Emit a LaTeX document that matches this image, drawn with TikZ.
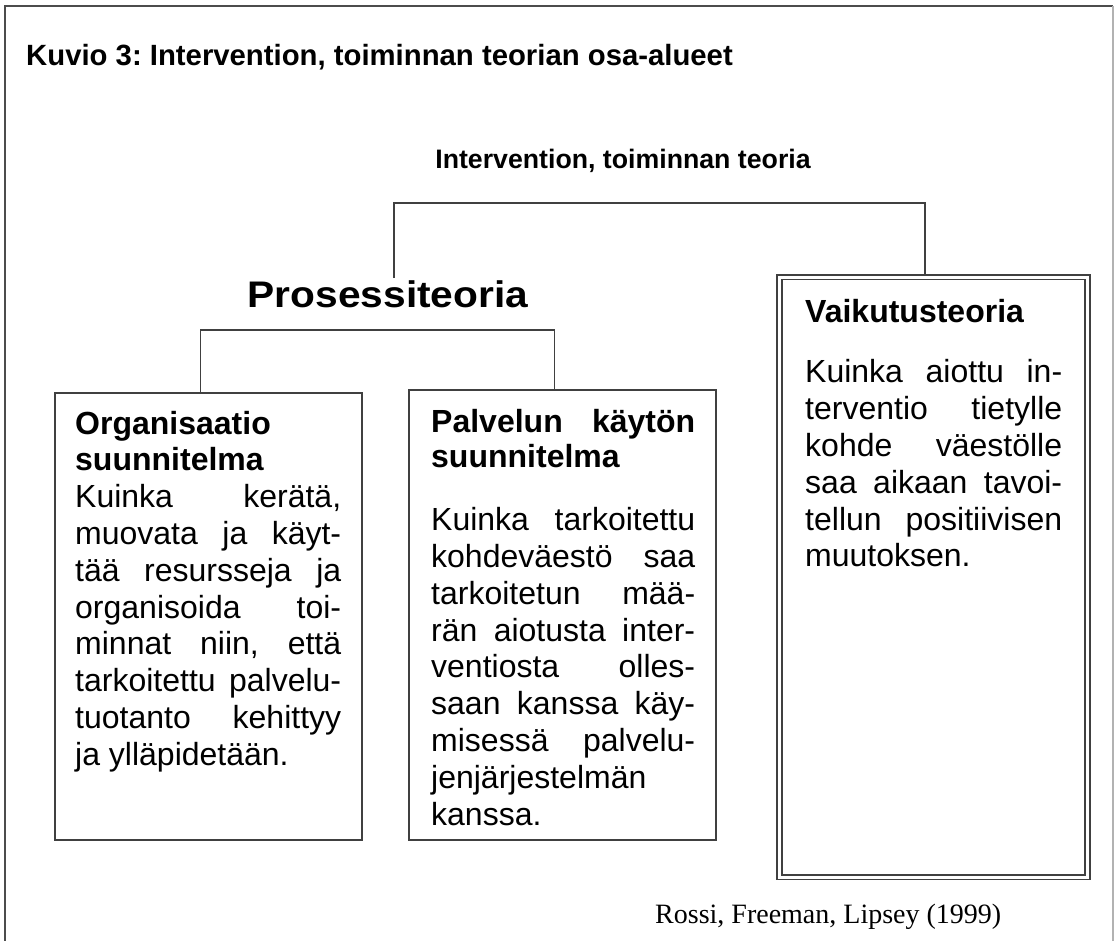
\documentclass[tikz,border=0pt]{standalone}
\usepackage{fontspec}
\usepackage{graphicx}
\setmainfont{Liberation Sans}
\newfontfamily\citefont{Liberation Serif}
% one justified line of a box text
\newcommand{\jline}[1]{\makebox[\linewidth][s]{#1}}

\begin{document}
\frenchspacing
\begin{tikzpicture}[x=1pt,y=-1pt,
  frame/.style={draw=black!70, line width=1.3pt},
  box/.style={draw=black!75, line width=1.8pt, rectangle, inner sep=0pt, outer sep=0pt},
  link/.style={draw=black!75, line width=1.8pt},
  boxtext/.style={anchor=base west, inner sep=0pt, font=\fontsize{32}{36.8}\selectfont},
  heading/.style={anchor=base, inner sep=0pt, font=\bfseries}
]
\useasboundingbox (0,0) rectangle (1118,940);
\fill[white] (0,0) rectangle (1118,940);

% outer frame, open at the bottom
\draw[frame] (5,950) -- (5,6) -- (1113,6);
\draw[draw=black!30, line width=1.3pt] (1113,6) -- (1113,950);

% caption
\node[anchor=base west, inner sep=0pt] (title) at (26,65)
  {\fontsize{29.3}{29.3}\selectfont\bfseries Kuvio 3: Intervention, toiminnan teorian osa-alueet};

% tree labels
\node[heading] (theory) at (623,168)
  {\fontsize{26.7}{26.7}\selectfont Intervention, toiminnan teoria};
\node[heading] (proc) at (388,307)
  {\fontsize{37}{37}\selectfont\scalebox{1.1}[1]{Prosessiteoria}};

% boxes
\node[box, minimum width=307pt, minimum height=447pt] (org) at (208.5,616.5) {};
\node[box, minimum width=307pt, minimum height=450pt] (serv) at (562.5,615) {};
\node[box, double, double distance=3pt, minimum width=308pt, minimum height=600pt] (impact) at (933.5,577) {};

% connector levels and attachment points
\coordinate (bar1) at (0,203);
\coordinate (bar2) at (0,330);
\coordinate (procUp) at (394,278);
\coordinate (orgIn) at ([xshift=-8pt]org.north);
\coordinate (servIn) at ([xshift=-8pt]serv.north);
\coordinate (impIn) at ([xshift=-8.5pt,yshift=3.1pt]impact.north);

\draw[link] (procUp) -- (procUp |- bar1) -| (impIn);
\draw[link] (orgIn) -- (orgIn |- bar2) -| (servIn);

% box texts
\node[boxtext] (orgtxt) at (75,434) {\parbox[t]{266pt}{\bfseries
  Organisaatio\\
  suunnitelma\\
  \mdseries
  \jline{Kuinka kerätä,}\\
  \jline{muovata ja käyt-}\\
  \jline{tää resursseja ja}\\
  \jline{organisoida toi-}\\
  \jline{minnat niin, että}\\
  \jline{tarkoitettu palvelu-}\\
  \jline{tuotanto kehittyy}\\
  ja ylläpidetään.}};

\node[boxtext] (servtxt) at (431,432) {\parbox[t]{264pt}{\bfseries
  \jline{Palvelun käytön}\\[-1pt]
  suunnitelma\\[26pt]
  \mdseries
  \jline{Kuinka tarkoitettu}\\
  \jline{kohdeväestö saa}\\
  \jline{tarkoitetun mää-}\\
  \jline{rän aiotusta inter-}\\
  \jline{ventiosta olles-}\\
  \jline{saan kanssa käy-}\\
  \jline{misessä palvelu-}\\
  jenjärjestelmän\\
  kanssa.}};

\node[boxtext] (imptxt) at (805,322) {\parbox[t]{257pt}{\bfseries
  Vaikutusteoria\\[24pt]
  \mdseries
  \jline{Kuinka aiottu in-}\\
  \jline{terventio tietylle}\\
  \jline{kohde väestölle}\\
  \jline{saa aikaan tavoi-}\\
  \jline{tellun positiivisen}\\
  muutoksen.}};

% source
\node[anchor=base west, inner sep=0pt] (cite) at (655,923)
  {\citefont\fontsize{28}{28}\selectfont Rossi, Freeman, Lipsey (1999)};
\end{tikzpicture}
\end{document}
